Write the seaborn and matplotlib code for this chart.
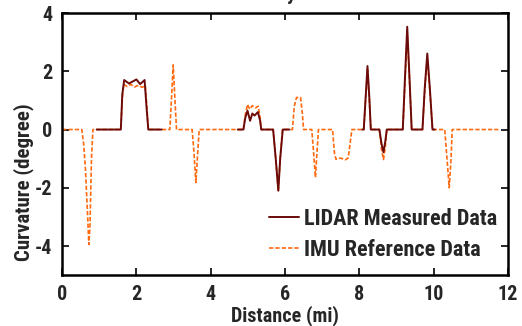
import numpy as np
import pandas as pd
import matplotlib
matplotlib.use("Agg")
import matplotlib.pyplot as plt
import seaborn as sns
from matplotlib.lines import Line2D

# IMU reference curve (distance in mi, curvature in degree)
imu_dist = [0.00, 0.53, 0.58, 0.63, 0.68, 0.72, 0.75, 0.79, 0.83,
            1.58, 1.62, 1.66, 1.75, 1.85, 1.95, 2.05, 2.15, 2.24, 2.28, 2.32,
            2.90, 2.95, 2.99, 3.03, 3.08,
            3.50, 3.55, 3.60, 3.64, 3.69,
            4.88, 4.93, 4.99, 5.05, 5.12, 5.20, 5.28, 5.33, 5.36,
            5.68, 5.75, 5.82, 5.87, 5.93,
            6.20, 6.25, 6.31, 6.42, 6.47, 6.50,
            6.72, 6.77, 6.82, 6.86, 6.90,
            7.28, 7.33, 7.37, 7.50, 7.62, 7.70, 7.75, 7.80,
            8.12, 8.17, 8.22, 8.27, 8.31,
            8.54, 8.60, 8.65, 8.70, 8.74,
            9.17, 9.23, 9.29, 9.35, 9.41,
            9.70, 9.76, 9.83, 9.90, 9.97,
            10.30, 10.36, 10.42, 10.47, 10.50,
            11.74]
imu_curv = [0, 0, -0.5, -1.4, -2.8, -3.95, -3.3, -1.0, 0,
            0, 1.1, 1.55, 1.48, 1.55, 1.46, 1.52, 1.45, 1.5, 0.8, 0,
            0, 1.2, 2.22, 1.2, 0,
            0, -0.8, -1.82, -1.0, 0,
            0, 0.5, 0.86, 0.7, 0.82, 0.74, 0.8, 0.4, 0,
            0, -1.0, -2.12, -1.0, 0,
            0, 0.8, 1.1, 1.1, 0.5, 0,
            0, -0.8, -1.64, -0.8, 0,
            0, -0.8, -1.02, -0.98, -1.04, -0.98, -0.5, 0,
            0, 1.0, 2.05, 1.0, 0,
            0, -0.7, -1.03, -0.6, 0,
            0, 1.6, 3.3, 1.7, 0,
            0, 1.3, 2.45, 1.3, 0,
            0, -1.0, -2.0, -1.0, 0,
            0]

# LIDAR measured curve, three measured stretches
lidar_dist = [0.93, 1.58, 1.62, 1.67, 1.80, 2.00, 2.10, 2.22, 2.27, 2.32, 2.68,
              4.73, 4.88, 4.93, 4.99, 5.06, 5.12, 5.18, 5.27, 5.33, 5.36,
              5.68, 5.75, 5.82, 5.87, 5.94, 6.12,
              8.08, 8.12, 8.17, 8.22, 8.27, 8.31, 8.54, 8.60, 8.65, 8.70, 8.74,
              9.17, 9.23, 9.29, 9.35, 9.41, 9.70, 9.76, 9.83, 9.90, 9.97, 10.03]
lidar_curv = [0, 0, 1.2, 1.70, 1.58, 1.72, 1.56, 1.70, 0.8, 0, 0,
              0, 0, 0.4, 0.65, 0.3, 0.55, 0.48, 0.6, 0.3, 0,
              0, -1.0, -2.1, -1.0, 0, 0,
              0, 0, 1.1, 2.18, 1.1, 0, 0, -0.5, -0.78, -0.4, 0,
              0, 1.8, 3.53, 1.8, 0, 0, 1.4, 2.61, 1.4, 0, 0]
lidar_seg = [1] * 11 + [2] * 16 + [3] * 22

imu_df = pd.DataFrame({"dist": imu_dist, "curv": imu_curv})
lidar_df = pd.DataFrame({"dist": lidar_dist, "curv": lidar_curv, "seg": lidar_seg})

sns.set_theme(style="ticks")
plt.rcParams["font.family"] = ["Roboto Condensed", "Liberation Sans", "DejaVu Sans"]
plt.rcParams["font.weight"] = "bold"
plt.rcParams["axes.unicode_minus"] = False

lidar_col = "#6b0a0a"
imu_col = "#ff6a10"
fs = 14.5

fig = plt.figure(figsize=(5.22, 3.26), dpi=100)
ax = fig.add_axes([0.119, 0.156, 0.854, 0.804])

sns.lineplot(data=imu_df, x="dist", y="curv", ax=ax, color=imu_col,
             linewidth=1.2, sort=False)
ax.lines[-1].set_dashes((2.6, 1.2))
sns.lineplot(data=lidar_df, x="dist", y="curv", units="seg", estimator=None,
             ax=ax, color=lidar_col, linewidth=1.4, sort=False)

ax.set_xlim(0, 12)
ax.set_ylim(-5, 4)
ax.set_xticks([0, 2, 4, 6, 8, 10, 12])
ax.set_yticks([-4, -2, 0, 2, 4])
ax.tick_params(direction="in", top=True, right=True, length=5, width=1.4,
               labelsize=fs, pad=7)
for lab in ax.get_xticklabels() + ax.get_yticklabels():
    lab.set_fontweight("bold")
for s in ax.spines.values():
    s.set_linewidth(1.8)
    s.set_color("black")

ax.set_xlabel("Distance (mi)", fontsize=fs, fontweight="bold", labelpad=1)
ax.set_ylabel("Curvature (degree)", fontsize=15, fontweight="bold")
ax.yaxis.set_label_coords(-0.062, 0.355)

# title sits mostly above the figure edge, only a descender shows
fig.text(0.567, 0.9985, "Curvature Accuracy", ha="right", va="baseline",
         fontsize=fs, fontweight="bold")

handles = [Line2D([], [], color=lidar_col, linewidth=1.4),
           Line2D([], [], color=imu_col, linewidth=1.2, dashes=(2.6, 1.2))]
leg = ax.legend(handles, ["LIDAR Measured Data", "IMU Reference Data"],
                loc="lower right", bbox_to_anchor=(0.975, 0.055), frameon=False,
                prop={"size": 16, "weight": "bold"}, handlelength=1.35,
                handletextpad=0.2, labelspacing=0.4, borderpad=0,
                borderaxespad=0)

fig.savefig("out.png", dpi=100)
